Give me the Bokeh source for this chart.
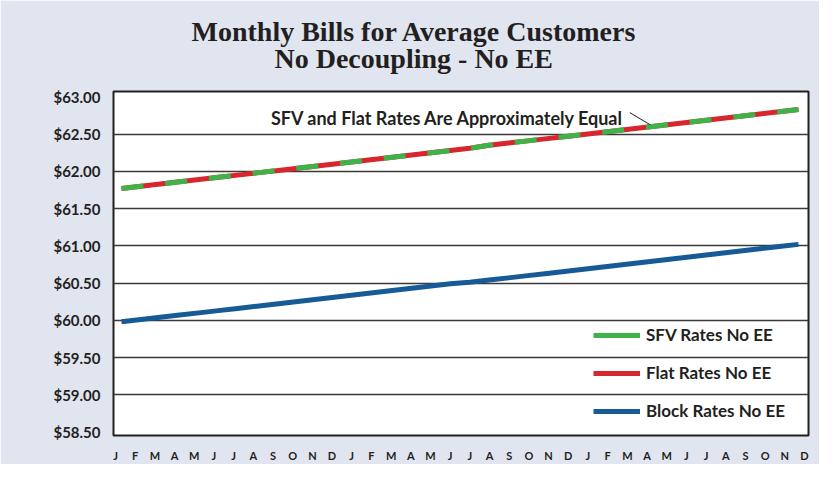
from bokeh.plotting import figure
from bokeh.models import (Range1d, LinearAxis, FixedTicker, NumeralTickFormatter,
                          Legend, LegendItem, Label, Title, ColumnDataSource)
from bokeh.embed import file_html
from bokeh.resources import INLINE

# ---------------- data ----------------
month_labels = ["J", "F", "M", "A", "M", "J", "J", "A", "S", "O", "N", "D"] * 3
months = list(range(36))

sfv_rates = [61.77, 61.80, 61.83, 61.86, 61.89, 61.92, 61.95, 61.98, 62.01, 62.04,
             62.07, 62.10, 62.13, 62.16, 62.19, 62.22, 62.25, 62.28, 62.31, 62.35,
             62.38, 62.41, 62.44, 62.47, 62.50, 62.53, 62.56, 62.59, 62.62, 62.65,
             62.68, 62.71, 62.74, 62.77, 62.80, 62.83]
flat_rates = [61.77, 61.80, 61.83, 61.86, 61.89, 61.92, 61.95, 61.98, 62.01, 62.04,
              62.07, 62.10, 62.13, 62.16, 62.19, 62.22, 62.25, 62.28, 62.31, 62.35,
              62.38, 62.41, 62.44, 62.47, 62.50, 62.53, 62.56, 62.59, 62.62, 62.65,
              62.68, 62.71, 62.74, 62.77, 62.80, 62.83]
block_rates = [59.98, 60.01, 60.04, 60.07, 60.10, 60.13, 60.16, 60.19, 60.22, 60.25,
               60.28, 60.31, 60.34, 60.37, 60.40, 60.43, 60.46, 60.49, 60.51, 60.54,
               60.57, 60.60, 60.63, 60.66, 60.69, 60.72, 60.75, 60.78, 60.81, 60.84,
               60.87, 60.90, 60.93, 60.96, 60.99, 61.02]

series_names = ["SFV Rates No EE", "Flat Rates No EE", "Block Rates No EE"]
y_ticks = [58.5, 59.0, 59.5, 60.0, 60.5, 61.0, 61.5, 62.0, 62.5, 63.0]
grid_ticks = [59.0, 59.5, 60.0, 60.5, 61.0, 61.5, 62.0, 62.5]

title_line1 = "Monthly Bills for Average Customers"
title_line2 = "No Decoupling - No EE"
note_text = "SFV and Flat Rates Are Approximately Equal"
note_pos = (25.99, 62.72)
leader = (26.28, 62.789, 27.31, 62.629)

# ---------------- style ----------------
BG = "#e1e5f0"
INK = "#231f20"
GREEN = "#3fb34a"
RED = "#d7262e"
BLUE = "#165a96"
SANS = "Lato"
SERIF = "Liberation Serif"

p = figure(width=819, height=464, output_backend="svg", toolbar_location=None,
           x_axis_type=None, title=None,
           x_range=Range1d(-0.414, 35.517), y_range=Range1d(58.453, 63.073),
           min_border_left=113, min_border_right=11, min_border_top=91,
           min_border_bottom=27)
p.border_fill_color = BG
p.background_fill_color = "white"
p.outline_line_color = INK
p.outline_line_width = 2

# month axis
p.extra_x_ranges = {"months": Range1d(-0.102, 35.203)}
xax = LinearAxis(x_range_name="months")
xax.ticker = FixedTicker(ticks=months)
xax.major_label_overrides = {i: lab for i, lab in zip(months, month_labels)}
xax.axis_line_color = None
xax.major_tick_line_color = None
xax.minor_tick_line_color = None
xax.major_label_standoff = 7
xax.major_label_text_font = SANS
xax.major_label_text_font_style = "bold"
xax.major_label_text_font_size = "11px"
xax.major_label_text_color = INK
p.add_layout(xax, "below")

# y axis
yax = p.yaxis[0]
yax.ticker = FixedTicker(ticks=y_ticks)
yax.formatter = NumeralTickFormatter(format="$0.00")
yax.axis_line_color = None
yax.major_tick_line_color = None
yax.minor_tick_line_color = None
yax.major_label_standoff = 7
yax.major_label_text_font = SANS
yax.major_label_text_font_style = "bold"
yax.major_label_text_font_size = "15px"
yax.major_label_text_color = INK

p.ygrid.ticker = FixedTicker(ticks=grid_ticks)
p.ygrid.grid_line_color = "#3a3a3a"
p.ygrid.grid_line_width = 1.3

src = ColumnDataSource(dict(m=months, sfv=sfv_rates, flat=flat_rates, block=block_rates))

r_block = p.line("m", "block", source=src, line_color=BLUE, line_width=5)
r_flat = p.line("m", "flat", source=src, line_color=RED, line_width=5)
r_sfv = p.line("m", "sfv", source=src, line_color=GREEN, line_width=5,
               line_dash="22 22")
r_sfv_legend = p.line("m", "sfv", source=src, line_color=GREEN, line_width=5,
                      visible=False)

legend = Legend(items=[LegendItem(label=series_names[0], renderers=[r_sfv_legend]),
                       LegendItem(label=series_names[1], renderers=[r_flat]),
                       LegendItem(label=series_names[2], renderers=[r_block])],
                location=(474, 8), background_fill_alpha=0, border_line_alpha=0,
                glyph_width=47, glyph_height=20, label_height=20, spacing=17,
                padding=6, margin=0, label_standoff=6,
                label_text_font=SANS, label_text_font_style="bold",
                label_text_font_size="17px", label_text_color=INK)
p.add_layout(legend, "center")

# annotation
p.add_layout(Label(x=note_pos[0], y=note_pos[1], text=note_text, text_align="right",
                   text_baseline="alphabetic", text_font=SANS, text_font_style="bold",
                   text_font_size="18px", text_color=INK))
p.segment(x0=[leader[0]], y0=[leader[1]], x1=[leader[2]], y1=[leader[3]],
          line_color=INK, line_width=1)

# two-line title (second line is nearest the frame)
t2 = Title(text=title_line2, align="left", offset=161, standoff=36,
           text_font=SERIF, text_font_style="bold", text_font_size="28px",
           text_color=INK)
t1 = Title(text=title_line1, align="left", offset=78, standoff=-49,
           text_font=SERIF, text_font_style="bold", text_font_size="28px",
           text_color=INK)
p.add_layout(t2, "above")
p.add_layout(t1, "above")

open("out.html", "w").write(file_html(p, INLINE))
